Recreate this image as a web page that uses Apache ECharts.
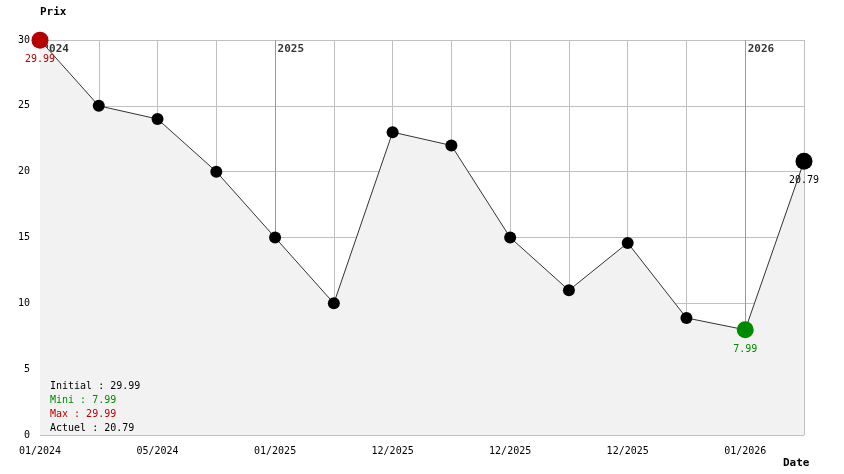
<!DOCTYPE html>
<html>
<head>
<meta charset="utf-8">
<script src="https://cdn.jsdelivr.net/npm/echarts@6/dist/echarts.min.js"></script>
<style>
html,body{margin:0;padding:0;background:#fff;}
#chart{width:844px;height:474px;}
</style>
</head>
<body>
<div id="chart"></div>
<script>
// ---- data ----
const categories = ["01/2024","","05/2024","","01/2025","","12/2025","","12/2025","","12/2025","","01/2026",""];
const prices = [29.99, 25, 24, 20, 15, 10, 23, 21.99, 15, 10.99, 14.59, 8.89, 7.99, 20.79];
const yearIndex = [0, 4, 12];
const yearLabels = ["2024", "2025", "2026"];
const yTicks = {min: 0, max: 30, interval: 5};
const yName = "Prix";
const xName = "Date";

const MONO = "DejaVu Sans Mono";
const RED = "#b40000", GREEN = "#008a00";

const minV = Math.min(...prices), maxV = Math.max(...prices);
const minI = prices.indexOf(minV), maxI = prices.indexOf(maxV);
const lastI = prices.length - 1;

const seriesData = prices.map((v, i) => {
  const item = {value: v};
  let color = null;
  if (i === maxI) color = RED;
  else if (i === minI) color = GREEN;
  else if (i === lastI) color = "#000";
  if (color) {
    item.symbolSize = 17;
    item.itemStyle = {color: color};
    item.label = {show: true, position: "bottom", distance: 6, color: color,
      fontFamily: MONO, fontSize: 10, formatter: String(v)};
  }
  return item;
});

const chart = echarts.init(document.getElementById('chart'), null, {renderer: 'canvas'});
chart.setOption({
  animation: false,
  backgroundColor: "#fff",
  grid: {left: 40, right: 40, top: 40, bottom: 39, containLabel: false},
  title: [
    {
      z: 30,
      left: 50, top: 379, padding: 0,
      text: "{k|Initial : " + prices[0] + "}\n{g|Mini : " + minV + "}\n{r|Max : " + maxV + "}\n{k|Actuel : " + prices[lastI] + "}",
      textStyle: {
        fontFamily: MONO, fontSize: 10, fontWeight: "normal", lineHeight: 14,
        rich: {
          k: {color: "#000", fontFamily: MONO, fontSize: 10, lineHeight: 14},
          g: {color: GREEN, fontFamily: MONO, fontSize: 10, lineHeight: 14},
          r: {color: RED, fontFamily: MONO, fontSize: 10, lineHeight: 14}
        }
      }
    },
    {
      z: 30,
      left: 783, top: 458, padding: 0, text: xName,
      textStyle: {fontFamily: MONO, fontSize: 11, fontWeight: "bold", color: "#000"}
    }
  ],
  xAxis: {
    type: "category",
    z: 0,
    data: categories,
    boundaryGap: false,
    axisLine: {show: false},
    axisTick: {show: false},
    axisLabel: {interval: 0, margin: 11, color: "#000", fontFamily: MONO, fontSize: 10},
    splitLine: {show: true, interval: 0, lineStyle: {color: "#c0c0c0", width: 1}}
  },
  yAxis: {
    type: "value",
    z: 0,
    min: yTicks.min, max: yTicks.max, interval: yTicks.interval,
    name: yName,
    nameLocation: "end",
    nameGap: 22,
    nameTextStyle: {align: "left", fontFamily: MONO, fontSize: 11, fontWeight: "bold", color: "#000"},
    axisLine: {show: false},
    axisTick: {show: false},
    axisLabel: {margin: 10, color: "#000", fontFamily: MONO, fontSize: 10},
    splitLine: {show: true, lineStyle: {color: "#c0c0c0", width: 1}}
  },
  series: [
    {
      type: "scatter",
      z: 5,
      symbolSize: 1,
      itemStyle: {color: "rgba(0,0,0,0)"},
      data: yearIndex.map(i => [i, yTicks.max]),
      label: {
        show: true, position: [3, 4],
        fontFamily: MONO, fontSize: 11, fontWeight: "bold", color: "#000",
        formatter: p => yearLabels[p.dataIndex]
      },
      markLine: {
        silent: true,
        symbol: "none",
        label: {show: false},
        lineStyle: {color: "#999", width: 1, type: "solid"},
        data: yearIndex.map(i => ({xAxis: i}))
      }
    },
    {
      type: "line",
      z: 10,
      data: seriesData,
      symbol: "circle",
      symbolSize: 12,
      itemStyle: {color: "#000"},
      lineStyle: {color: "#333", width: 1},
      areaStyle: {color: "#f2f2f2", opacity: 1},
      label: {show: false}
    }
  ]
});
</script>
</body>
</html>
